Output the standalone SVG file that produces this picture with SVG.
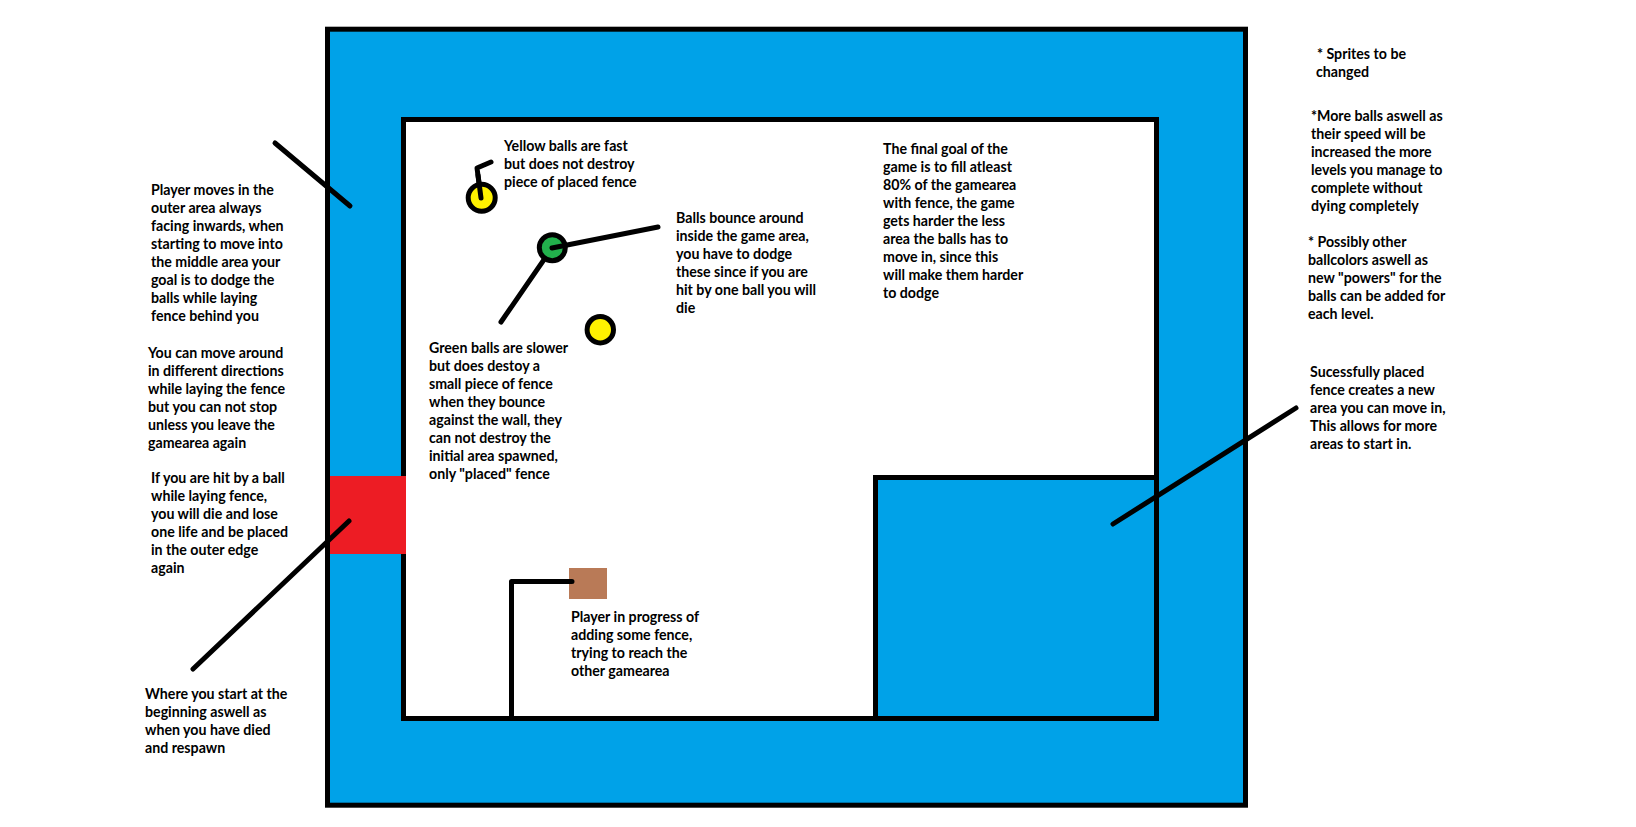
<svg xmlns="http://www.w3.org/2000/svg" width="1636" height="827" viewBox="0 0 1636 827">
<style>
.t{font-family:Lato,"Liberation Sans",sans-serif;font-weight:bold;font-size:14.2px;fill:#000}
.area{fill:#00a2e8;stroke:#000;stroke-width:5}
.ln{fill:none;stroke:#000;stroke-width:5;stroke-linecap:round;stroke-linejoin:round}
.ball{stroke:#000;stroke-width:5}
</style>
<rect width="1636" height="827" fill="#fff"/>
<g id="outer-area"><rect class="area" x="327.5" y="29.2" width="918" height="776"/></g>
<g id="game-area"><rect x="403.5" y="119.5" width="753" height="599" fill="#fff" stroke="#000" stroke-width="5"/></g>
<g id="placed-area"><rect class="area" x="875.5" y="477.5" width="281" height="241"/></g>
<g id="spawn"><rect x="330" y="476" width="76" height="78" fill="#ed1c24"/></g>
<g id="player"><rect x="569" y="568" width="38" height="31" fill="#b97a57"/></g>
<g id="fence"><path class="ln" d="M511.5 718.5V581.5H572"/></g>
<g id="connectors">
<line class="ln" x1="275" y1="143" x2="350" y2="206"/>
<line class="ln" x1="349" y1="521" x2="193" y2="669"/>
<line class="ln" x1="1296" y1="408" x2="1113" y2="524"/>
<polyline class="ln" points="481,198 477,168 491,162"/>
<line class="ln" x1="552" y1="248" x2="501" y2="322"/>
</g>
<g id="yellow-ball-1"><circle class="ball" cx="481.7" cy="197.7" r="13.5" fill="#fff200"/><line class="ln" x1="481" y1="198" x2="478" y2="175"/></g>
<g id="green-ball"><circle class="ball" cx="552.3" cy="247.7" r="13" fill="#22b14c"/><line class="ln" x1="552" y1="248" x2="658" y2="227"/></g>
<g id="yellow-ball-2"><circle class="ball" cx="600.3" cy="329.7" r="13.2" fill="#fff200"/></g>
<g id="note-player-moves"><text class="t" x="151" y="195"><tspan x="151">Player moves in the</tspan><tspan x="151" dy="18">outer area always</tspan><tspan x="151" dy="18">facing inwards, when</tspan><tspan x="151" dy="18">starting to move into</tspan><tspan x="151" dy="18">the middle area your</tspan><tspan x="151" dy="18">goal is to dodge the</tspan><tspan x="151" dy="18">balls while laying</tspan><tspan x="151" dy="18">fence behind you</tspan></text></g>
<g id="note-move-around"><text class="t" x="148" y="358"><tspan x="148">You can move around</tspan><tspan x="148" dy="18">in different directions</tspan><tspan x="148" dy="18">while laying the fence</tspan><tspan x="148" dy="18">but you can not stop</tspan><tspan x="148" dy="18">unless you leave the</tspan><tspan x="148" dy="18">gamearea again</tspan></text></g>
<g id="note-hit"><text class="t" x="151" y="483"><tspan x="151">If you are hit by a ball</tspan><tspan x="151" dy="18">while laying fence,</tspan><tspan x="151" dy="18">you will die and lose</tspan><tspan x="151" dy="18">one life and be placed</tspan><tspan x="151" dy="18">in the outer edge</tspan><tspan x="151" dy="18">again</tspan></text></g>
<g id="note-start"><text class="t" x="145" y="699"><tspan x="145">Where you start at the</tspan><tspan x="145" dy="18">beginning aswell as</tspan><tspan x="145" dy="18">when you have died</tspan><tspan x="145" dy="18">and respawn</tspan></text></g>
<g id="note-yellow"><text class="t" x="504" y="151"><tspan x="504">Yellow balls are fast</tspan><tspan x="504" dy="18">but does not destroy</tspan><tspan x="504" dy="18">piece of placed fence</tspan></text></g>
<g id="note-bounce"><text class="t" x="676" y="223"><tspan x="676">Balls bounce around</tspan><tspan x="676" dy="18">inside the game area,</tspan><tspan x="676" dy="18">you have to dodge</tspan><tspan x="676" dy="18">these since if you are</tspan><tspan x="676" dy="18">hit by one ball you will</tspan><tspan x="676" dy="18">die</tspan></text></g>
<g id="note-green"><text class="t" x="429" y="353"><tspan x="429">Green balls are slower</tspan><tspan x="429" dy="18">but does destoy a</tspan><tspan x="429" dy="18">small piece of fence</tspan><tspan x="429" dy="18">when they bounce</tspan><tspan x="429" dy="18">against the wall, they</tspan><tspan x="429" dy="18">can not destroy the</tspan><tspan x="429" dy="18">initial area spawned,</tspan><tspan x="429" dy="18">only "placed" fence</tspan></text></g>
<g id="note-goal"><text class="t" x="883" y="154"><tspan x="883">The final goal of the</tspan><tspan x="883" dy="18">game is to fill atleast</tspan><tspan x="883" dy="18">80% of the gamearea</tspan><tspan x="883" dy="18">with fence, the game</tspan><tspan x="883" dy="18">gets harder the less</tspan><tspan x="883" dy="18">area the balls has to</tspan><tspan x="883" dy="18">move in, since this</tspan><tspan x="883" dy="18">will make them harder</tspan><tspan x="883" dy="18">to dodge</tspan></text></g>
<g id="note-progress"><text class="t" x="571" y="622"><tspan x="571">Player in progress of</tspan><tspan x="571" dy="18">adding some fence,</tspan><tspan x="571" dy="18">trying to reach the</tspan><tspan x="571" dy="18">other gamearea</tspan></text></g>
<g id="note-sprites"><text class="t" x="1317" y="59"><tspan x="1317">* Sprites to be</tspan><tspan x="1316" dy="18">changed</tspan></text></g>
<g id="note-more-balls"><text class="t" x="1311" y="121"><tspan x="1311">*More balls aswell as</tspan><tspan x="1311" dy="18">their speed will be</tspan><tspan x="1311" dy="18">increased the more</tspan><tspan x="1311" dy="18">levels you manage to</tspan><tspan x="1311" dy="18">complete without</tspan><tspan x="1311" dy="18">dying completely</tspan></text></g>
<g id="note-colors"><text class="t" x="1308" y="247"><tspan x="1308">* Possibly other</tspan><tspan x="1308" dy="18">ballcolors aswell as</tspan><tspan x="1308" dy="18">new "powers" for the</tspan><tspan x="1308" dy="18">balls can be added for</tspan><tspan x="1308" dy="18">each level.</tspan></text></g>
<g id="note-success"><text class="t" x="1310" y="377"><tspan x="1310">Sucessfully placed</tspan><tspan x="1310" dy="18">fence creates a new</tspan><tspan x="1310" dy="18">area you can move in,</tspan><tspan x="1310" dy="18">This allows for more</tspan><tspan x="1310" dy="18">areas to start in.</tspan></text></g>
</svg>
